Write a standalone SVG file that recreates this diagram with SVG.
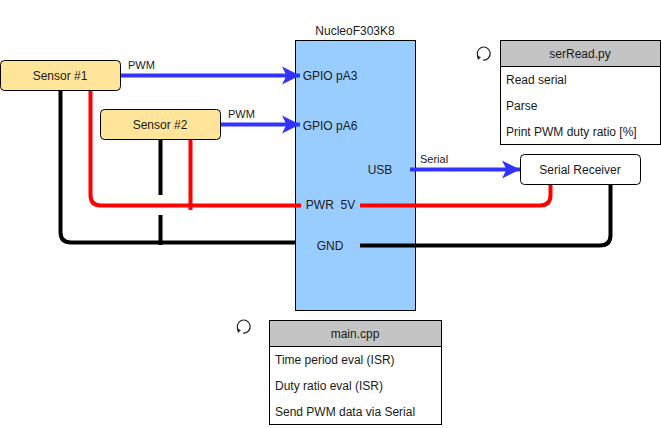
<svg xmlns="http://www.w3.org/2000/svg" width="661" height="428" viewBox="0 0 661 428">
<style>
text{font-family:"Liberation Sans",Arial,sans-serif;font-size:12px;fill:#1a1a1a;white-space:pre}
.m{text-anchor:middle}
.s{font-size:11px}
.w{fill:none;stroke-width:4}
.blue{stroke:#3333ff}
.red{stroke:#ff0000}
.blk{stroke:#000}
.box{stroke:#000;stroke-width:1}
.sensor{fill:#ffe599}
.hdr{fill:#c4c4c4}
.bg{fill:#fff}
.ic{fill:none;stroke:#222;stroke-width:1.2}
</style>
<defs>
<marker id="ah" markerUnits="userSpaceOnUse" markerWidth="20" markerHeight="20" refX="18" refY="10" orient="auto"><path d="M0 1L18 10L0 19L4.500 10Z" fill="#3333ff"/></marker>
</defs>
<g id="chip"><rect x="295.500" y="40.500" width="120" height="270" fill="#99ccff" class="box"/><text class="m" x="355" y="35">NucleoF303K8</text><text class="m" x="330" y="80">GPIO pA3</text><text class="m" x="330" y="130">GPIO pA6</text><text class="m" x="380" y="174">USB</text><text class="m" x="330.500" y="209">PWR  5V</text><text class="m" x="330" y="250">GND</text></g>
<g id="connectors">
<path class="w blk" d="M60.500 90V232Q60.500 242.500 71 242.500H295"/>
<path class="w red" d="M90.500 90V195Q90.500 205.500 101 205.500H301"/>
<path class="w blk" d="M160.500 139V195M160.500 215V245"/>
<path class="w red" d="M190.500 138V210"/>
<path class="w blue" d="M120 75.500H300" marker-end="url(#ah)"/>
<path class="w blue" d="M220 124.500H300" marker-end="url(#ah)"/>
<path class="w blue" d="M410 169.500H520" marker-end="url(#ah)"/>
<path class="w red" d="M360 205.500H540Q550.500 205.500 550.500 195V184"/>
<path class="w blk" d="M360 245.500H600Q610.500 245.500 610.500 235V184"/>
<text class="s" x="128" y="69">PWM</text><text class="s" x="228" y="118">PWM</text><text class="s" x="420" y="163">Serial</text>
</g>
<g id="sensor1"><rect x="0.500" y="60.500" width="120" height="30" rx="4" class="box sensor"/><text class="m" x="60" y="80">Sensor #1</text></g>
<g id="sensor2"><rect x="100.500" y="109.500" width="120" height="30" rx="4" class="box sensor"/><text class="m" x="160" y="129">Sensor #2</text></g>
<g id="receiver"><rect x="520.500" y="154.500" width="120" height="30" rx="4" class="box bg"/><text class="m" x="580" y="174">Serial Receiver</text></g>
<g id="serRead"><rect x="500.500" y="40.500" width="160" height="104" class="box bg"/><rect x="500.500" y="40.500" width="160" height="26" class="box hdr"/><text class="m" x="580" y="58">serRead.py</text><text x="506" y="84">Read serial</text><text x="506" y="110">Parse</text><text x="506" y="136">Print PWM duty ratio [%]</text>
<path class="ic" d="M479 58A6.500 6.500 0 1 1 483 60"/><path d="M477 56L481 57L478 60Z" fill="#222"/></g>
<g id="mainCpp"><rect x="269.500" y="320.500" width="172" height="104" class="box bg"/><rect x="269.500" y="320.500" width="172" height="26" class="box hdr"/><text class="m" x="355" y="338">main.cpp</text><text x="275" y="364">Time period eval (ISR)</text><text x="275" y="390">Duty ratio eval (ISR)</text><text x="275" y="416">Send PWM data via Serial</text>
<path class="ic" d="M239 332.500A6.500 6.500 0 1 1 243 334.500" transform="translate(0 -1.500)"/><path d="M237 329L241 330L238 333Z" fill="#222"/></g>
</svg>
